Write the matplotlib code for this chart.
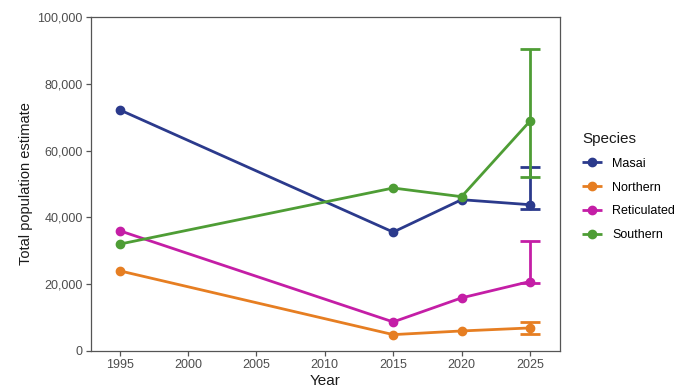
import matplotlib
matplotlib.use("Agg")
import matplotlib.pyplot as plt
import numpy as np
from matplotlib.ticker import FuncFormatter

plt.rcParams['font.family'] = ['Liberation Sans', 'DejaVu Sans']

years = [1995, 2015, 2020, 2025]
species = ["Masai", "Northern", "Reticulated", "Southern"]
colors = ["#2b3a8c", "#e67e22", "#c41ea6", "#4e9d35"]

masai = [72200, 35600, 45300, 43800]
northern = [24000, 4900, 6000, 6900]
reticulated = [36000, 8700, 15900, 20800]
southern = [32000, 48800, 46200, 68800]

# 2025 error bar limits (lower, upper)
err_low = [42600, 5100, 20500, 52000]
err_high = [55200, 8800, 33000, 90400]

series = [masai, northern, reticulated, southern]

fig = plt.figure(figsize=(6.91, 3.89), dpi=100)
ax = fig.add_axes([0.1317, 0.0977, 0.8104 - 0.1317, 0.9563 - 0.0977])

for name, vals, c, lo, hi in zip(species, series, colors, err_low, err_high):
    ax.plot(years, vals, color=c, lw=2.0, marker='o', markersize=6, label=name,
            solid_capstyle='butt')
    v = vals[-1]
    ax.errorbar([years[-1]], [v], yerr=[[v - lo], [hi - v]], fmt='none',
                ecolor=c, elinewidth=2.0, capsize=7, capthick=2.0)

ax.set_xlim(1992.9, 2027.2)
ax.set_ylim(0, 100000)
ax.set_xticks([1995, 2000, 2005, 2010, 2015, 2020, 2025])
ax.set_yticks([0, 20000, 40000, 60000, 80000, 100000])
ax.yaxis.set_major_formatter(FuncFormatter(lambda v, p: f"{int(v):,}"))

for s in ax.spines.values():
    s.set_color("#555555")
    s.set_linewidth(0.9)
ax.tick_params(colors="#555555", labelcolor="#4d4d4d", labelsize=9,
               length=3.5, width=0.9, pad=2.5)

ax.set_xlabel("Year", fontsize=11, color="#1a1a1a", labelpad=2)
ax.set_ylabel("Total population estimate", fontsize=10.5, color="#1a1a1a", labelpad=3)

leg = fig.legend(loc='upper left', bbox_to_anchor=(0.826, 0.69), frameon=False,
                 title="Species", fontsize=9, title_fontsize=11,
                 handlelength=1.6, labelspacing=0.95, alignment='left')
leg.get_title().set_color("#1a1a1a")

fig.savefig("out.png", dpi=100)
